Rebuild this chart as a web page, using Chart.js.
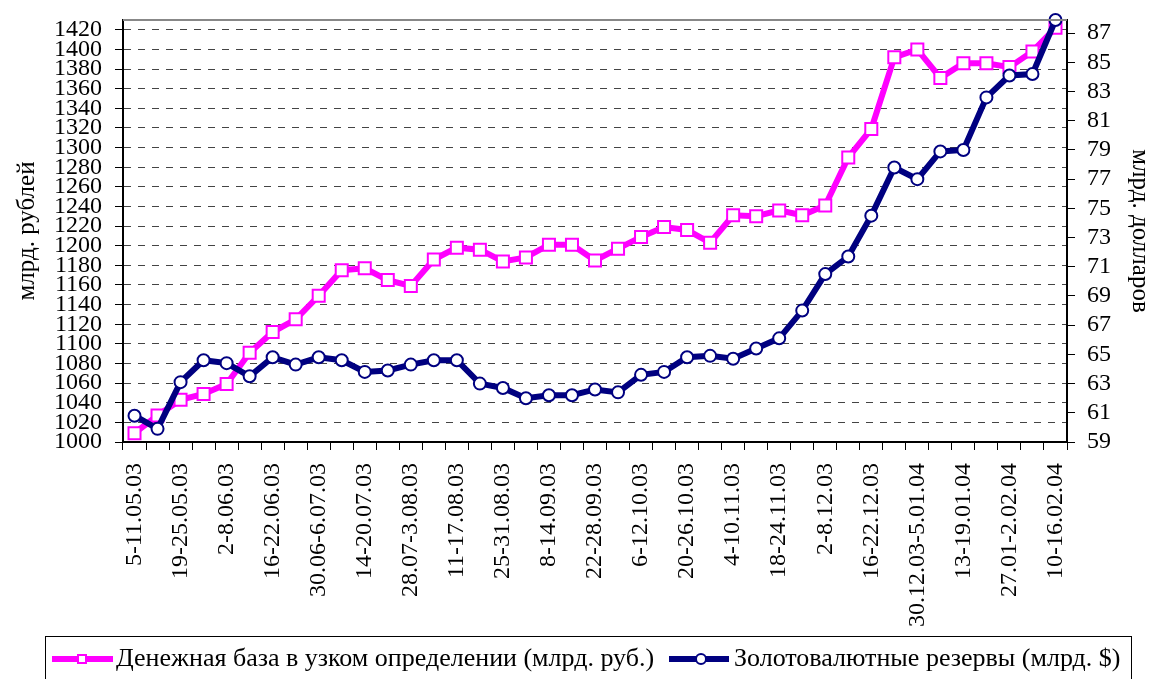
<!DOCTYPE html>
<html lang="ru">
<head>
<meta charset="utf-8">
<title>Денежная база и золотовалютные резервы</title>
<script src="https://cdn.jsdelivr.net/npm/chart.js@4.4.1/dist/chart.umd.min.js"></script>
<style>
  html, body { margin: 0; padding: 0; background: #fff; overflow: hidden; }
  #wrap { position: relative; width: 1152px; height: 679px; overflow: hidden; }
  #chart { position: absolute; left: 0; top: 0; }
  /* legend box, cut off by the bottom edge like in the source */
  #legend {
    position: absolute; left: 45px; top: 636px; width: 1087px; height: 60px;
    border: 1px solid #000; box-sizing: border-box;
    font-family: 'Liberation Serif', 'Times New Roman', serif; font-size: 26px; color: #000;
  }
  .lg-line { position: absolute; height: 6px; top: 19px; }
  .lg-mark { position: absolute; box-sizing: border-box; background: #fff; }
  .lg-text { position: absolute; top: 6px; line-height: 30px; white-space: nowrap; }
</style>
</head>
<body>
<div id="wrap">
  <canvas id="chart" width="1152" height="679"></canvas>
  <div id="legend">
    <div class="lg-line" style="left:6px;width:61px;background:#ff00ff"></div>
    <div class="lg-mark" style="left:31px;top:17px;width:10px;height:10px;border:2px solid #ff00ff"></div>
    <span class="lg-text" id="lg1" style="left:70px"></span>
    <div class="lg-line" style="left:623px;width:60px;background:#000080"></div>
    <div class="lg-mark" style="left:649px;top:16px;width:12px;height:12px;border:2px solid #000080;border-radius:50%"></div>
    <span class="lg-text" id="lg2" style="left:688px"></span>
  </div>
</div>
<script>
/* ── DATA ─────────────────────────────────────────────── */
/* Weekly periods, May 2003 – Feb 2004 (every other one is labelled) */
const WEEKS = [
  '5-11.05.03', '12-18.05.03', '19-25.05.03', '26.05-1.06.03', '2-8.06.03',
  '9-15.06.03', '16-22.06.03', '23-29.06.03', '30.06-6.07.03', '7-13.07.03',
  '14-20.07.03', '21-27.07.03', '28.07-3.08.03', '4-10.08.03', '11-17.08.03',
  '18-24.08.03', '25-31.08.03', '1-7.09.03', '8-14.09.03', '15-21.09.03',
  '22-28.09.03', '29.09-5.10.03', '6-12.10.03', '13-19.10.03', '20-26.10.03',
  '27.10-3.11.03', '4-10.11.03', '11-17.11.03', '18-24.11.03', '25.11-1.12.03',
  '2-8.12.03', '9-15.12.03', '16-22.12.03', '23-29.12.03', '30.12.03-5.01.04',
  '6-12.01.04', '13-19.01.04', '20-26.01.04', '27.01-2.02.04', '3-9.02.04',
  '10-16.02.04',
];

/* Monetary base, narrow definition (bn roubles) — left axis */
const MONEY_BASE = [
  1009, 1027, 1043, 1049, 1059, 1091, 1112, 1125, 1149, 1175,
  1177, 1165, 1159, 1186, 1198, 1196, 1184, 1188, 1201, 1201,
  1185, 1197, 1209, 1219, 1216, 1203, 1231, 1230, 1236, 1231,
  1241, 1290, 1319, 1392, 1400, 1371, 1386, 1386, 1382, 1398,
  1422,
];

/* Gold and currency reserves (bn $) — right axis */
const RESERVES = [
  60.8, 59.9, 63.1, 64.6, 64.4, 63.5, 64.8, 64.3, 64.8, 64.6,
  63.8, 63.9, 64.3, 64.6, 64.6, 63.0, 62.7, 62.0, 62.2, 62.2,
  62.6, 62.4, 63.6, 63.8, 64.8, 64.9, 64.7, 65.4, 66.1, 68.0,
  70.5, 71.7, 74.5, 77.8, 77.0, 78.9, 79.0, 82.6, 84.1, 84.2,
  87.9,
];

const LEFT_TICKS  = [1000, 1020, 1040, 1060, 1080, 1100, 1120, 1140, 1160, 1180, 1200,
                     1220, 1240, 1260, 1280, 1300, 1320, 1340, 1360, 1380, 1400, 1420];
const RIGHT_TICKS = [59, 61, 63, 65, 67, 69, 71, 73, 75, 77, 79, 81, 83, 85, 87];

const LABEL_MONEY    = 'Денежная база в узком определении (млрд. руб.)';
const LABEL_RESERVES = 'Золотовалютные резервы (млрд. $)';

/* ── COLOURS / DEFAULTS ───────────────────────────────── */
const MAGENTA = '#ff00ff';
const NAVY    = '#000080';

Chart.defaults.font.family = "'Liberation Serif', 'Times New Roman', serif";
Chart.defaults.font.size   = 24;
Chart.defaults.color       = '#000';

document.getElementById('lg1').textContent = LABEL_MONEY;
document.getElementById('lg2').textContent = LABEL_RESERVES;

/* grey top edge of the plot area */
const topFrame = {
  id: 'topFrame',
  afterDraw(chart) {
    const { ctx, chartArea: a } = chart;
    ctx.save();
    ctx.strokeStyle = '#888';
    ctx.lineWidth = 2;
    ctx.beginPath();
    ctx.moveTo(a.left, a.top);
    ctx.lineTo(a.right, a.top);
    ctx.stroke();
    ctx.restore();
  },
};

/* fixed axis sizes so the plot area sits where it does in the source */
function fixVertical(width) {
  return (s) => {
    s.width = width;
    s.paddingTop = 0;
    s.paddingBottom = 0;
  };
}

new Chart(document.getElementById('chart'), {
  type: 'line',
  data: {
    labels: WEEKS,
    datasets: [
      {
        label: LABEL_MONEY,
        data: MONEY_BASE,
        yAxisID: 'y',
        order: 1,
        borderColor: MAGENTA,
        borderWidth: 6,
        pointStyle: 'rect',
        pointRadius: 8.5,
        pointBorderWidth: 2,
        pointBorderColor: MAGENTA,
        pointBackgroundColor: '#fff',
        tension: 0,
        clip: false,
      },
      {
        label: LABEL_RESERVES,
        data: RESERVES,
        yAxisID: 'y2',
        order: 0,
        borderColor: NAVY,
        borderWidth: 6,
        pointStyle: 'circle',
        pointRadius: 6,
        pointBorderWidth: 2,
        pointBorderColor: NAVY,
        pointBackgroundColor: '#fff',
        tension: 0,
        clip: false,
      },
    ],
  },
  options: {
    responsive: false,
    animation: false,
    devicePixelRatio: 1,
    layout: { padding: { top: 20, left: 0, right: 0, bottom: 47 } },
    plugins: {
      legend: { display: false },
      tooltip: { enabled: false },
    },
    scales: {
      x: {
        offset: true,
        afterFit: (s) => { s.height = 190; },
        border: { color: '#000', width: 2 },
        grid: { drawOnChartArea: false, drawTicks: true, tickLength: 8, color: '#000', offset: true },
        ticks: {
          autoSkip: false,
          minRotation: 90,
          maxRotation: 90,
          padding: 13,
          color: '#000',
          callback: (v, i) => (i % 2 === 0 ? WEEKS[i] : ''),
        },
      },
      y: {
        position: 'left',
        min: 1000,
        max: 1430,
        afterFit: fixVertical(123),
        afterBuildTicks: (s) => { s.ticks = LEFT_TICKS.map(v => ({ value: v })); },
        border: { color: '#000', width: 2, dash: [7, 7] },
        grid: {
          color: '#444',
          lineWidth: 1,
          tickColor: '#000',
          tickBorderDash: [],
          tickLength: 8,
        },
        ticks: { autoSkip: false, padding: 13, color: '#000', callback: (v) => String(v) },
        title: {
          display: true,
          text: 'млрд. рублей',
          font: { size: 25, lineHeight: 1 },
          padding: { top: 15, bottom: 0 },
        },
      },
      y2: {
        position: 'right',
        min: 59,
        max: 87.9,
        afterFit: fixVertical(85),
        afterBuildTicks: (s) => { s.ticks = RIGHT_TICKS.map(v => ({ value: v })); },
        border: { color: '#000', width: 2 },
        grid: { drawOnChartArea: false, tickLength: 8, color: '#000' },
        ticks: { autoSkip: false, padding: 12, color: '#000', callback: (v) => String(v) },
        title: {
          display: true,
          text: 'млрд. долларов',
          font: { size: 25, lineHeight: 1 },
          padding: { top: 0, bottom: 0 },
        },
      },
    },
  },
  plugins: [topFrame],
});
</script>
</body>
</html>
